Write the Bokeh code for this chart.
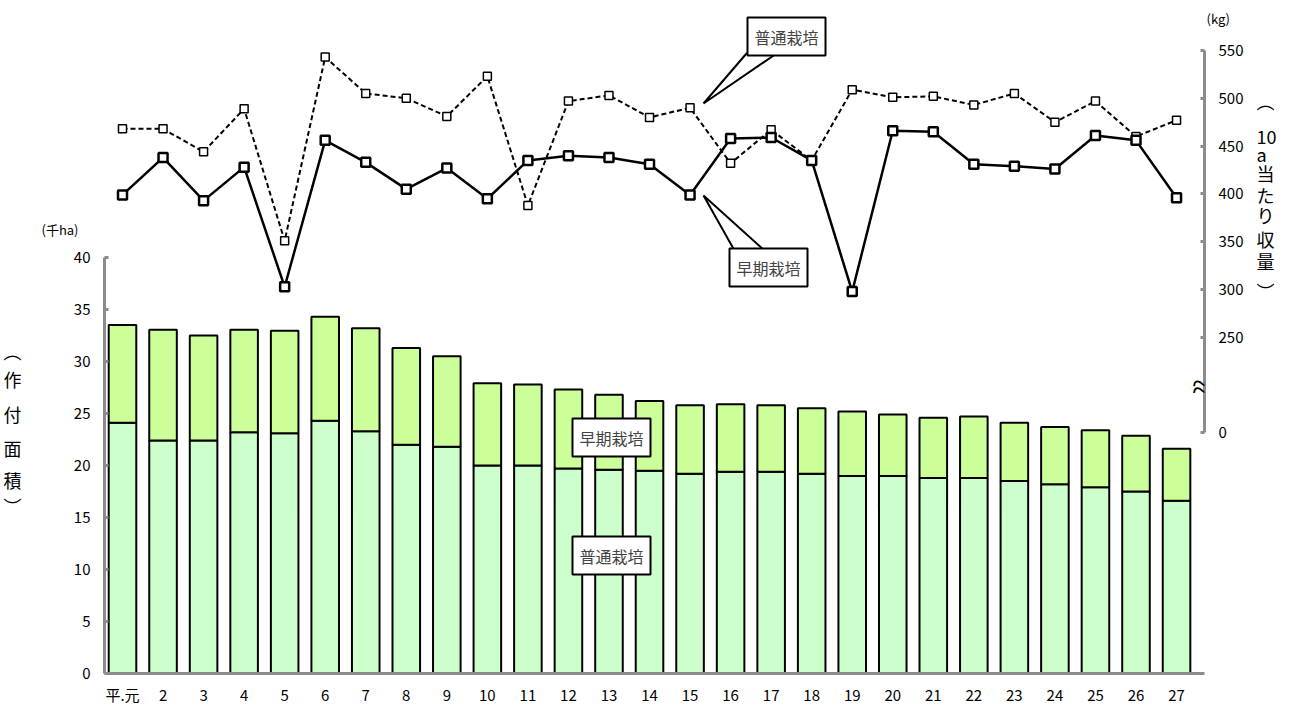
from bokeh.plotting import figure
from bokeh.models import (Range1d, LinearAxis, FixedTicker, Label, ColumnDataSource)
from bokeh.embed import file_html
from bokeh.resources import INLINE

years = list(range(1, 28))
year_labels = ["平.元"] + [str(i) for i in range(2, 28)]

# 作付面積 (千ha)
total = [33.5, 33.05, 32.5, 33.05, 32.96, 34.3, 33.2, 31.3, 30.5, 27.9, 27.8, 27.3, 26.8, 26.2,
         25.8, 25.9, 25.8, 25.5, 25.2, 24.9, 24.6, 24.7, 24.1, 23.7, 23.4, 22.85, 21.6]
normal_area = [24.1, 22.4, 22.4, 23.2, 23.1, 24.3, 23.3, 22.0, 21.8, 20.0, 20.0, 19.7, 19.6, 19.5,
               19.2, 19.4, 19.4, 19.2, 19.0, 19.0, 18.8, 18.8, 18.5, 18.2, 17.9, 17.5, 16.6]
early_area = [round(t - n, 2) for t, n in zip(total, normal_area)]

# 10a当たり収量 (kg)
normal_yield = [468, 468, 444, 489, 351, 543, 505, 500, 481, 523, 388, 497, 503, 480,
                490, 432, 467, 435, 509, 501, 502, 493, 505, 475, 497, 460, 477]
early_yield = [399, 438, 393, 428, 303, 456, 433, 405, 427, 395, 435, 440, 438, 431,
               399, 458, 459, 435, 298, 466, 465, 431, 429, 426, 461, 456, 396]

left_title = ["︵", "作", "付", "面", "積", "︶"]
right_title = ["︵", "10", "a", "当", "た", "り", "収", "量", "︶"]

FONT = "Noto Sans CJK JP"
GREY = "#8c8c8c"

# page pixel -> data helpers (for annotations only)
def dx(px):
    return 1 + (px - 121) / 40.54

def dy(py):
    return (673 - py) / 10.4

p = figure(frame_width=1100, frame_height=663, output_backend="svg", toolbar_location=None,
           x_range=Range1d(dx(103), dx(1203)), y_range=Range1d(0, dy(10)),
           min_border_left=103, min_border_right=80, min_border_top=10, min_border_bottom=30)
p.outline_line_color = None
p.grid.visible = False
p.axis.visible = False

p.extra_y_ranges = {"yield": Range1d(250 - 336 / 0.957, 250 + 327 / 0.957)}

src = ColumnDataSource(dict(x=years, normal=normal_area, early=early_area,
                            ny=normal_yield, ey=early_yield))
p.vbar_stack(["normal", "early"], x="x", width=0.68, source=src,
             fill_color=["#ccffcc", "#ccff99"], line_color="black", line_width=2)

# left axis
la = LinearAxis(ticker=FixedTicker(ticks=list(range(0, 41, 5))), bounds=(0, 40))
p.add_layout(la, "left")
# bottom axis
ba = LinearAxis(ticker=FixedTicker(ticks=years),
                major_label_overrides={y: l for y, l in zip(years, year_labels)})
p.add_layout(ba, "below")
# right axis
zero_pos = 250 - 95 / 0.957
ra = LinearAxis(y_range_name="yield",
                ticker=FixedTicker(ticks=[zero_pos] + list(range(250, 551, 50))),
                major_label_overrides={zero_pos: "0"}, bounds=(zero_pos, 550))
p.add_layout(ra, "right")

for ax in (la, ba, ra):
    ax.axis_line_color = GREY
    ax.axis_line_width = 3
    ax.major_tick_line_color = GREY
    ax.major_tick_line_width = 3
    ax.major_tick_out = 0
    ax.major_tick_in = 4
    ax.minor_tick_line_color = None
    ax.major_label_text_font = FONT
    ax.major_label_text_font_size = "15px"
    ax.major_label_text_color = "black"
ba.major_tick_line_color = None
ba.major_label_standoff = 10
la.major_label_standoff = 14
ra.major_label_standoff = 14

# label-only axes for units and stacked vertical titles
def text_axis(labels, ys, side, standoff, size="18px"):
    ticks = [dy(y) for y in ys]
    ax = LinearAxis(ticker=FixedTicker(ticks=ticks),
                    major_label_overrides={t: c for t, c in zip(ticks, labels)},
                    axis_line_color=None, major_tick_line_color=None,
                    minor_tick_line_color=None, major_label_standoff=standoff,
                    major_label_text_font=FONT, major_label_text_font_size=size,
                    major_label_text_color="black")
    p.add_layout(ax, side)
    return ax

text_axis(["(千ha)"], [229], "left", -14, "13px")
text_axis(left_title, [350, 378, 413, 447, 479, 505], "left", 11).major_label_text_align = "center"

yk = 250 + (337 - 18) / 0.957
ka = LinearAxis(y_range_name="yield", ticker=FixedTicker(ticks=[yk]),
                major_label_overrides={yk: "(kg)"},
                axis_line_color=None, major_tick_line_color=None, minor_tick_line_color=None,
                major_label_standoff=-46, major_label_text_font=FONT,
                major_label_text_font_size="13px", major_label_text_color="black")
p.add_layout(ka, "right")
text_axis(right_title, [100, 135, 153, 172, 194, 214, 238, 260, 290], "right",
          4).major_label_text_align = "center"

# yield lines
p.line("x", "ny", source=src, y_range_name="yield", line_color="black",
       line_width=2, line_dash="5 3")
p.scatter("x", "ny", source=src, y_range_name="yield", marker="square", size=8,
          fill_color="white", line_color="black", line_width=1.5)
p.line("x", "ey", source=src, y_range_name="yield", line_color="black", line_width=2.5)
p.scatter("x", "ey", source=src, y_range_name="yield", marker="square", size=9,
          fill_color="white", line_color="black", line_width=2.5)

# callout pointers
p.patch([dx(745), dx(775), dx(702)], [dy(53), dy(53), dy(103)],
        fill_color="white", line_color="black", line_width=2)
p.patch([dx(733), dx(763), dx(702)], [dy(250), dy(250), dy(195)],
        fill_color="white", line_color="black", line_width=2)

def box(text, px, py):
    p.add_layout(Label(x=dx(px), y=dy(py), text=text, text_font=FONT, text_font_size="16px",
                       text_align="center", text_baseline="middle",
                       background_fill_color="white", border_line_color="black",
                       border_line_width=2, padding=7))

box("普通栽培", 785, 36)
box("早期栽培", 767, 267)
box("早期栽培", 610, 437)
box("普通栽培", 610, 555)

# axis break mark
p.add_layout(Label(x=dx(1200), y=200, y_range_name="yield", text="≈", text_font="Noto Sans",
                   text_font_size="34px", text_align="center", text_baseline="middle",
                   text_color="black"))

open("out.html", "w").write(file_html(p, INLINE))
